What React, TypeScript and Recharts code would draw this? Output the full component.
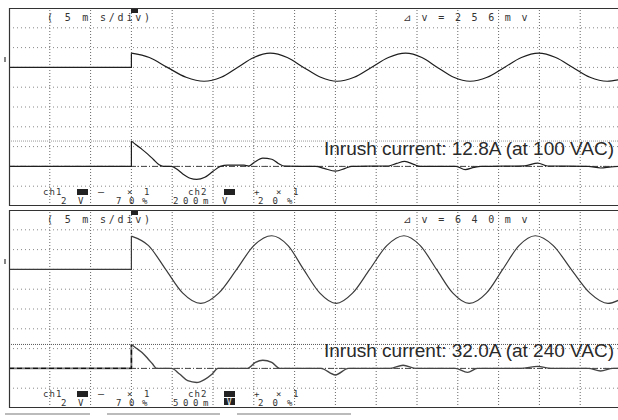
import { LineChart, Line, XAxis, YAxis, ReferenceLine } from 'recharts';

// time axis in ms (5 ms/div, 15 divisions on screen), values in divisions
const X_TICKS = [0, 5, 10, 15, 20, 25, 30, 35, 40, 45, 50, 55, 60, 65, 70, 75];
const Y_TICKS = [0, 1, 2, 3, 4, 5, 6, 7, 8, 9, 10];

const CH1_POS = 7; // 70 %
const CH2_POS = 2; // 20 %
const TRIGGER_MS = 15;

// upper screen: 100 VAC
const P1_CH1_T = [15.0, 17.2, 19.4, 21.7, 23.9, 26.0, 28.0, 30.0, 32.0, 34.1, 36.1, 38.2, 40.2, 42.3, 44.4, 46.5, 48.6, 50.6, 52.5, 54.5, 56.5, 58.6, 60.7, 62.8, 64.9, 67.0, 69.1, 71.2, 73.3, 75.0];
const P1_CH1_V = [0.72, 0.5, 0.0, -0.5, -0.7, -0.5, 0, 0.5, 0.72, 0.5, 0, -0.5, -0.7, -0.5, 0, 0.5, 0.72, 0.5, 0, -0.5, -0.7, -0.5, 0, 0.5, 0.72, 0.5, 0, -0.5, -0.7, -0.6];
const P1_CH2_T = [15.0, 15.6, 16.3, 17.0, 17.7, 18.4, 18.9, 19.9, 20.6, 21.3, 22.2, 23.0, 24.0, 25.0, 25.9, 26.8, 28.8, 29.4, 30.1, 31.1, 32.2, 33.0, 33.8, 37.6, 38.6, 40.0, 41.2, 42.0, 46.5, 47.5, 48.5, 49.6, 50.4, 54.8, 55.9, 57.0, 57.8, 63.2, 64.8, 66.0, 71.0, 72.5, 73.8, 75.0];
const P1_CH2_V = [1.28, 1.08, 0.86, 0.62, 0.35, 0.08, 0, 0, -0.15, -0.38, -0.6, -0.66, -0.55, -0.25, 0, 0.06, 0.06, 0.02, 0.22, 0.42, 0.36, 0.15, 0.01, 0, -0.1, -0.24, -0.1, 0, 0.02, 0.15, 0.25, 0.1, 0, 0, -0.16, -0.05, 0, 0.03, 0.17, 0.02, 0, -0.08, -0.02, 0];

// lower screen: 240 VAC
const P2_CH1_T = [15.0, 17.1, 19.2, 21.3, 23.5, 25.7, 27.9, 30.0, 32.2, 34.2, 36.1, 38.1, 40.1, 42.1, 44.2, 46.3, 48.4, 50.4, 52.4, 54.4, 56.4, 58.5, 60.5, 62.5, 64.5, 66.7, 68.9, 71.2, 73.4, 75.0];
const P2_CH1_V = [1.68, 1.2, 0, -1.2, -1.72, -1.2, 0, 1.2, 1.7, 1.2, 0, -1.2, -1.72, -1.2, 0, 1.2, 1.7, 1.2, 0, -1.2, -1.72, -1.2, 0, 1.2, 1.7, 1.2, 0, -1.2, -1.72, -1.5];
const P2_CH2_T = [15.0, 15.6, 16.3, 17.0, 17.6, 18.1, 19.9, 20.9, 21.9, 23.0, 24.0, 24.9, 25.6, 29.2, 30.2, 31.1, 32.2, 33.2, 38.2, 40.0, 41.6, 46.6, 48.3, 49.9, 54.7, 56.2, 57.4, 62.7, 64.8, 66.4, 71.0, 72.5, 74.0, 75.0];
const P2_CH2_V = [1.21, 1.02, 0.8, 0.5, 0.22, 0, 0, -0.28, -0.62, -0.71, -0.55, -0.28, 0, 0, 0.3, 0.41, 0.3, 0, 0, -0.33, 0, 0, 0.16, 0, 0, -0.2, 0, 0, 0.1, 0, 0, -0.13, 0, 0];

const W = 612;
const H = 198;
const MONO = '"DejaVu Sans Mono", monospace';

const screens = [
  { top: 8, ch1T: P1_CH1_T, ch1V: P1_CH1_V, ch2T: P1_CH2_T, ch2V: P1_CH2_V, delta: '⊿ v = 2 5 6 m v', ch2Scale: '200m', note: 'Inrush current: 12.8A (at 100 VAC)', noisy: false },
  { top: 210, ch1T: P2_CH1_T, ch1V: P2_CH1_V, ch2T: P2_CH2_T, ch2V: P2_CH2_V, delta: '⊿ v = 6 4 0 m v', ch2Scale: '500m', note: 'Inrush current: 32.0A (at 240 VAC)', noisy: true },
];

const toRows = (ts: number[], vs: number[], base: number) => ts.map((t, i) => ({ t, v: base + vs[i] }));

function Screen({ s }: { s: (typeof screens)[number] }) {
  const ch1 = toRows(s.ch1T, s.ch1V, CH1_POS);
  const ch2 = toRows(s.ch2T, s.ch2V, CH2_POS);
  const pre1 = [{ t: 0, v: CH1_POS }, { t: TRIGGER_MS, v: CH1_POS }, ch1[0]];
  const pre2 = [{ t: 0, v: CH2_POS }, { t: TRIGGER_MS, v: CH2_POS }, ch2[0]];
  const cursor = CH2_POS + Math.max(...s.ch2V);
  const trace = s.noisy ? '#3a3a3a' : '#1e1e1e';
  return (
    <div style={{ position: 'absolute', left: 9, top: s.top, width: W, height: H }}>
      <LineChart width={W} height={H} margin={{ top: 0, right: 0, bottom: 0, left: 0 }}>
        <XAxis type="number" dataKey="t" domain={[0, 75]} ticks={X_TICKS} height={0} tick={false} tickLine={false} axisLine={false} />
        <YAxis type="number" dataKey="v" domain={[0, 10]} ticks={Y_TICKS} width={0} tick={false} tickLine={false} axisLine={false} />
        {/* scope graticule */}
        {X_TICKS.map((x) => (
          <ReferenceLine key={`gx${x}`} x={x} stroke="#666" strokeDasharray="1 2" />
        ))}
        {Y_TICKS.map((y) => (
          <ReferenceLine key={`gy${y}`} y={y} stroke="#888" strokeDasharray="1 3" />
        ))}
        <ReferenceLine y={cursor} stroke={s.noisy ? '#555' : '#999'} strokeDasharray="1 1" />
        <ReferenceLine y={CH2_POS} stroke="#444" strokeDasharray="6 2 1 2" />
        <Line data={pre1} dataKey="v" type="linear" stroke={trace} strokeWidth={1.2} dot={false} isAnimationActive={false} />
        <Line data={ch1} dataKey="v" type="monotone" stroke={trace} strokeWidth={1.2} dot={false} isAnimationActive={false} />
        <Line data={pre2} dataKey="v" type="linear" stroke={s.noisy ? '#777' : '#1e1e1e'} strokeWidth={s.noisy ? 1.8 : 1.2} dot={false} isAnimationActive={false} />
        {s.noisy && (
          <Line data={pre2} dataKey="v" type="linear" stroke="#111" strokeWidth={1.4} strokeDasharray="5 3" dot={false} isAnimationActive={false} />
        )}
        <Line data={ch2} dataKey="v" type="monotone" stroke={s.noisy ? '#444' : '#1e1e1e'} strokeWidth={s.noisy ? 1.4 : 1.2} dot={false} isAnimationActive={false} />
      </LineChart>
    </div>
  );
}

function Labels({ s }: { s: (typeof screens)[number] }) {
  const T = s.top;
  const txt = { fontFamily: MONO, fontSize: 9, fill: '#333' };
  const r1 = T + 186.5;
  const r2 = T + 195.8;
  return (
    <g>
      <line x1={9} y1={T + 0.5} x2={618} y2={T + 0.5} stroke="#333" strokeWidth={1.2} />
      <line x1={9.5} y1={T} x2={9.5} y2={T + H} stroke="#333" strokeWidth={1.2} />
      <line x1={9} y1={T + H - 0.5} x2={618} y2={T + H - 0.5} stroke="#333" strokeWidth={1.2} />
      <rect x={131} y={T + 1} width={7} height={4} fill="#222" />
      <line x1={5} y1={T + 49} x2={5} y2={T + 54} stroke="#444" strokeWidth={1.3} />
      <text x={47} y={T + 12.5} style={{ fontFamily: MONO, fontSize: 10, fill: '#333', letterSpacing: 2.8 }}>( 5 m s/div)</text>
      <text x={403} y={T + 12.5} style={{ fontFamily: MONO, fontSize: 10, fill: '#333', letterSpacing: 2.3 }}>{s.delta}</text>
      <text x={43} y={r1} style={{ ...txt, letterSpacing: 1.1 }}>ch1</text>
      <rect x={77} y={T + 181} width={11} height={6} fill="#222" />
      <text x={98} y={r1} style={{ ...txt, fontSize: 10 }}>—</text>
      <text x={127} y={r1} style={{ ...txt, letterSpacing: 3.1 }}>× 1</text>
      <text x={188} y={r1} style={{ ...txt, letterSpacing: 1.1 }}>ch2</text>
      <rect x={224} y={T + 181} width={11} height={6} fill="#222" />
      <text x={254} y={r1} style={txt}>+</text>
      <text x={276} y={r1} style={{ ...txt, letterSpacing: 3.1 }}>× 1</text>
      <text x={61} y={r2} style={{ ...txt, letterSpacing: 3.1 }}>2 V</text>
      <text x={116} y={r2} style={{ ...txt, letterSpacing: 7.6 }}>70%</text>
      <text x={173} y={r2} style={{ ...txt, letterSpacing: 4.6 }}>{s.ch2Scale}</text>
      {s.noisy ? (
        <g>
          <rect x={224} y={T + 188} width={11} height={7} fill="#222" />
          <text x={226.8} y={T + 194.6} style={{ ...txt, fontSize: 8, fill: '#fff' }}>V</text>
        </g>
      ) : (
        <text x={222} y={r2} style={txt}>V</text>
      )}
      <text x={258} y={r2} style={{ ...txt, letterSpacing: 9.1 }}>20%</text>
      <text x={324} y={T + 147} style={{ fontFamily: '"Liberation Sans", Arial, sans-serif', fontSize: 19, fill: '#2a2a2a' }}>{s.note}</text>
    </g>
  );
}

export default function App() {
  return (
    <div style={{ position: 'absolute', left: 0, top: 0, width: 618, height: 420, overflow: 'hidden', background: '#fff' }}>
      {screens.map((s) => (
        <Screen key={s.top} s={s} />
      ))}
      <svg width={618} height={420} style={{ position: 'absolute', left: 0, top: 0, pointerEvents: 'none' }}>
        {screens.map((s) => (
          <Labels key={s.top} s={s} />
        ))}
        <line x1={5} y1={414} x2={90} y2={414} stroke="#bbb" strokeWidth={2} />
        <line x1={107} y1={414} x2={220} y2={414} stroke="#bbb" strokeWidth={2} />
        <line x1={237} y1={414} x2={351} y2={414} stroke="#bbb" strokeWidth={2} />
      </svg>
    </div>
  );
}
